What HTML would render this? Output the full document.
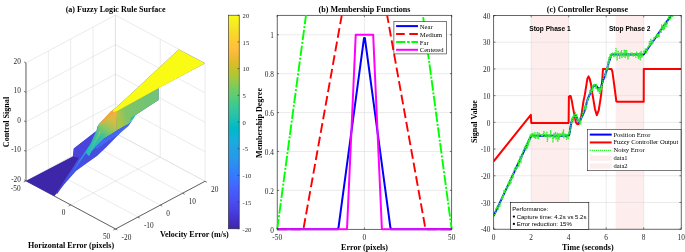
<!DOCTYPE html>
<html><head><meta charset="utf-8"><style>html,body{margin:0;padding:0;background:#fff;}svg{display:block;will-change:transform;}</style></head>
<body><svg width="685" height="252" viewBox="0 0 685 252">
<rect width="685" height="252" fill="#fff"/>
<line x1="25.98" y1="180.87" x2="25.98" y2="62.87" stroke="#dadada" stroke-width="0.55"/>
<line x1="48.34" y1="168.94" x2="48.34" y2="50.94" stroke="#dadada" stroke-width="0.55"/>
<line x1="70.7" y1="157.02" x2="70.7" y2="39.02" stroke="#dadada" stroke-width="0.55"/>
<line x1="93.06" y1="145.09" x2="93.06" y2="27.09" stroke="#dadada" stroke-width="0.55"/>
<line x1="115.42" y1="133.17" x2="115.42" y2="15.17" stroke="#dadada" stroke-width="0.55"/>
<line x1="25.98" y1="180.87" x2="115.42" y2="133.17" stroke="#dadada" stroke-width="0.55"/>
<line x1="25.98" y1="151.37" x2="115.42" y2="103.67" stroke="#dadada" stroke-width="0.55"/>
<line x1="25.98" y1="121.87" x2="115.42" y2="74.17" stroke="#dadada" stroke-width="0.55"/>
<line x1="25.98" y1="92.37" x2="115.42" y2="44.67" stroke="#dadada" stroke-width="0.55"/>
<line x1="25.98" y1="62.87" x2="115.42" y2="15.17" stroke="#dadada" stroke-width="0.55"/>
<line x1="115.42" y1="133.17" x2="115.42" y2="15.17" stroke="#dadada" stroke-width="0.55"/>
<line x1="160.22" y1="157.22" x2="160.22" y2="39.22" stroke="#dadada" stroke-width="0.55"/>
<line x1="205.02" y1="181.27" x2="205.02" y2="63.27" stroke="#dadada" stroke-width="0.55"/>
<line x1="115.42" y1="133.17" x2="205.02" y2="181.27" stroke="#dadada" stroke-width="0.55"/>
<line x1="115.42" y1="103.67" x2="205.02" y2="151.77" stroke="#dadada" stroke-width="0.55"/>
<line x1="115.42" y1="74.17" x2="205.02" y2="122.27" stroke="#dadada" stroke-width="0.55"/>
<line x1="115.42" y1="44.67" x2="205.02" y2="92.77" stroke="#dadada" stroke-width="0.55"/>
<line x1="115.42" y1="15.17" x2="205.02" y2="63.27" stroke="#dadada" stroke-width="0.55"/>
<line x1="25.98" y1="180.87" x2="115.42" y2="133.17" stroke="#dadada" stroke-width="0.55"/>
<line x1="70.78" y1="204.92" x2="160.22" y2="157.22" stroke="#dadada" stroke-width="0.55"/>
<line x1="115.58" y1="228.97" x2="205.02" y2="181.27" stroke="#dadada" stroke-width="0.55"/>
<line x1="25.98" y1="180.87" x2="115.58" y2="228.97" stroke="#dadada" stroke-width="0.55"/>
<line x1="48.34" y1="168.94" x2="137.94" y2="217.04" stroke="#dadada" stroke-width="0.55"/>
<line x1="70.7" y1="157.02" x2="160.3" y2="205.12" stroke="#dadada" stroke-width="0.55"/>
<line x1="93.06" y1="145.09" x2="182.66" y2="193.19" stroke="#dadada" stroke-width="0.55"/>
<line x1="115.42" y1="133.17" x2="205.02" y2="181.27" stroke="#dadada" stroke-width="0.55"/>
<line x1="25.98" y1="180.87" x2="25.98" y2="62.87" stroke="#262626" stroke-width="0.7"/>
<line x1="25.98" y1="180.87" x2="115.58" y2="228.97" stroke="#262626" stroke-width="0.7"/>
<line x1="115.58" y1="228.97" x2="205.02" y2="181.27" stroke="#262626" stroke-width="0.7"/>
<line x1="25.98" y1="180.87" x2="24.08" y2="179.87" stroke="#262626" stroke-width="0.6"/>
<line x1="25.98" y1="151.37" x2="24.08" y2="150.37" stroke="#262626" stroke-width="0.6"/>
<line x1="25.98" y1="121.87" x2="24.08" y2="120.87" stroke="#262626" stroke-width="0.6"/>
<line x1="25.98" y1="92.37" x2="24.08" y2="91.37" stroke="#262626" stroke-width="0.6"/>
<line x1="25.98" y1="62.87" x2="24.08" y2="61.87" stroke="#262626" stroke-width="0.6"/>
<line x1="25.98" y1="180.87" x2="23.78" y2="182.02" stroke="#262626" stroke-width="0.6"/>
<line x1="70.78" y1="204.92" x2="68.58" y2="206.07" stroke="#262626" stroke-width="0.6"/>
<line x1="115.58" y1="228.97" x2="113.38" y2="230.12" stroke="#262626" stroke-width="0.6"/>
<line x1="115.58" y1="228.97" x2="117.48" y2="229.97" stroke="#262626" stroke-width="0.6"/>
<line x1="137.94" y1="217.04" x2="139.84" y2="218.04" stroke="#262626" stroke-width="0.6"/>
<line x1="160.3" y1="205.12" x2="162.2" y2="206.12" stroke="#262626" stroke-width="0.6"/>
<line x1="182.66" y1="193.19" x2="184.56" y2="194.19" stroke="#262626" stroke-width="0.6"/>
<line x1="205.02" y1="181.27" x2="206.92" y2="182.27" stroke="#262626" stroke-width="0.6"/>
<defs><linearGradient id="gt" gradientUnits="userSpaceOnUse" x1="92" y1="145" x2="113" y2="112"><stop offset="0" stop-color="#22bdb5"/><stop offset="0.3" stop-color="#38c0a0"/><stop offset="0.55" stop-color="#8cc860"/><stop offset="0.8" stop-color="#d8bc44"/><stop offset="1" stop-color="#eeb23c"/></linearGradient><linearGradient id="gr" gradientUnits="userSpaceOnUse" x1="89" y1="151" x2="101" y2="130"><stop offset="0" stop-color="#2ab8c0"/><stop offset="0.5" stop-color="#50c490"/><stop offset="1" stop-color="#90c862"/></linearGradient><linearGradient id="gg" gradientUnits="userSpaceOnUse" x1="118" y1="112" x2="150" y2="106"><stop offset="0" stop-color="#a9c54a"/><stop offset="0.25" stop-color="#80c468"/><stop offset="1" stop-color="#70c474"/></linearGradient><linearGradient id="gs" gradientUnits="userSpaceOnUse" x1="59" y1="193" x2="90" y2="146"><stop offset="0" stop-color="#4438cc"/><stop offset="0.5" stop-color="#3f60ee"/><stop offset="0.8" stop-color="#2f94ea"/><stop offset="1" stop-color="#22bcc0"/></linearGradient></defs>
<polygon points="26,180.9 72.9,156.5 73.8,148.4 96.4,130.9 97.6,126.3 99.8,123.3 112.7,109.9 115.7,108 178.6,49.5 205.1,63.3 158.6,87.9 158.6,99.9 135.6,114.9 133.4,117.8 118.5,134.8 106,147.5 97,156 85,164.5 76,171 57,192.5 54.3,196.1" fill="#464ee0"/>
<polygon points="26,180.9 72.9,156.5 80,156 75,164 66,178 57.5,192 54.3,196.1" fill="#3e26a8"/>
<polygon points="72.9,156.5 73.8,148.4 96.4,130.9 97.6,128.3 96.3,131 91,142.5 86,153 83.5,157 80,158" fill="#4a44da"/>
<polyline points="56.5,193.5 66,180 74,170 80,160.5 85,153.2 90,146" fill="none" stroke="url(#gs)" stroke-width="1.5"/>
<polygon points="86,153 91,142.5 96.3,131 97.6,128.3 97.6,126.3 99.8,123.3 112.7,109.9 115.7,108 117.4,110.9 116.6,121 116.8,130.5 104,138.5 97,145.5 91,152 89,156" fill="url(#gt)"/>
<polyline points="88.3,155 95,141.5 100.5,131.5" fill="none" stroke="url(#gr)" stroke-width="2" stroke-linejoin="round"/>
<polyline points="100.8,124.2 106.5,117.6 112.2,111.6" fill="none" stroke="#f2a838" stroke-width="2.3" stroke-linejoin="round"/>
<polygon points="117,110.9 158.6,88.3 158.6,99.9 135.6,114.9 132.5,119.5 128.2,124 116.4,130.5 116.2,121" fill="url(#gg)"/>
<polygon points="131,117.5 135.6,114.9 133.4,118.8 130,121" fill="#22c2b0"/>
<polygon points="95,147 104,139 116.8,130.5 128.2,124 133.4,118.8 128.5,126 118.5,134.5 106,142.5 97,149" fill="#4466f0"/>
<polygon points="178.6,49.5 205.1,63.3 158.6,88.3 117.4,110.9 113.5,112 112.7,109.9 115.7,108" fill="#f9fb15"/>
<text x="20.9" y="181.87" font-family="'Liberation Serif', serif" font-size="7.3" font-weight="normal" text-anchor="end" fill="#262626">-20</text>
<text x="20.9" y="152.37" font-family="'Liberation Serif', serif" font-size="7.3" font-weight="normal" text-anchor="end" fill="#262626">-10</text>
<text x="20.9" y="122.87" font-family="'Liberation Serif', serif" font-size="7.3" font-weight="normal" text-anchor="end" fill="#262626">0</text>
<text x="20.9" y="93.37" font-family="'Liberation Serif', serif" font-size="7.3" font-weight="normal" text-anchor="end" fill="#262626">10</text>
<text x="20.9" y="63.87" font-family="'Liberation Serif', serif" font-size="7.3" font-weight="normal" text-anchor="end" fill="#262626">20</text>
<text x="20.58" y="191.27" font-family="'Liberation Serif', serif" font-size="7.3" font-weight="normal" text-anchor="end" fill="#262626">-50</text>
<text x="65.38" y="215.32" font-family="'Liberation Serif', serif" font-size="7.3" font-weight="normal" text-anchor="end" fill="#262626">0</text>
<text x="110.18" y="239.37" font-family="'Liberation Serif', serif" font-size="7.3" font-weight="normal" text-anchor="end" fill="#262626">50</text>
<text x="121.58" y="239.97" font-family="'Liberation Serif', serif" font-size="7.3" font-weight="normal" text-anchor="start" fill="#262626">-20</text>
<text x="143.94" y="228.04" font-family="'Liberation Serif', serif" font-size="7.3" font-weight="normal" text-anchor="start" fill="#262626">-10</text>
<text x="166.3" y="216.12" font-family="'Liberation Serif', serif" font-size="7.3" font-weight="normal" text-anchor="start" fill="#262626">0</text>
<text x="188.66" y="204.19" font-family="'Liberation Serif', serif" font-size="7.3" font-weight="normal" text-anchor="start" fill="#262626">10</text>
<text x="211.02" y="192.27" font-family="'Liberation Serif', serif" font-size="7.3" font-weight="normal" text-anchor="start" fill="#262626">20</text>
<text x="115.6" y="12" font-family="'Liberation Serif', serif" font-size="8.07" font-weight="bold" text-anchor="middle" fill="#000">(a) Fuzzy Logic Rule Surface</text>
<text x="9.3" y="122" font-family="'Liberation Serif', serif" font-size="8.07" font-weight="bold" text-anchor="middle" fill="#000" transform="rotate(-90 9.3 122)">Control Signal</text>
<text x="28" y="248" font-family="'Liberation Serif', serif" font-size="8.07" font-weight="bold" text-anchor="start" fill="#000">Horizontal Error (pixels)</text>
<text x="159.9" y="236.8" font-family="'Liberation Serif', serif" font-size="8.07" font-weight="bold" text-anchor="start" fill="#000">Velocity Error (m/s)</text>
<defs><linearGradient id="cb" x1="0" y1="0" x2="0" y2="1"><stop offset="0" stop-color="#f9fb15"/><stop offset="0.03" stop-color="#f6ef20"/><stop offset="0.06" stop-color="#f5e327"/><stop offset="0.09" stop-color="#f9d62d"/><stop offset="0.12" stop-color="#feca33"/><stop offset="0.16" stop-color="#febe3c"/><stop offset="0.19" stop-color="#f1ba37"/><stop offset="0.22" stop-color="#debc29"/><stop offset="0.25" stop-color="#c8c129"/><stop offset="0.28" stop-color="#afc636"/><stop offset="0.31" stop-color="#94ca4a"/><stop offset="0.34" stop-color="#77cc60"/><stop offset="0.38" stop-color="#5ccc76"/><stop offset="0.41" stop-color="#43cb8a"/><stop offset="0.44" stop-color="#34c79c"/><stop offset="0.47" stop-color="#28c2ab"/><stop offset="0.5" stop-color="#12beb9"/><stop offset="0.53" stop-color="#00b9c6"/><stop offset="0.56" stop-color="#0cb3d3"/><stop offset="0.59" stop-color="#1aacdd"/><stop offset="0.62" stop-color="#21a3e3"/><stop offset="0.66" stop-color="#269ae9"/><stop offset="0.69" stop-color="#2c90f0"/><stop offset="0.72" stop-color="#2e85f8"/><stop offset="0.75" stop-color="#347afd"/><stop offset="0.78" stop-color="#3f6eff"/><stop offset="0.81" stop-color="#4562fc"/><stop offset="0.84" stop-color="#4757f7"/><stop offset="0.88" stop-color="#484cef"/><stop offset="0.91" stop-color="#4741e5"/><stop offset="0.94" stop-color="#4536d5"/><stop offset="0.97" stop-color="#422ebf"/><stop offset="1" stop-color="#3e26a8"/></linearGradient></defs>
<rect x="228.4" y="15.2" width="10.8" height="213.6" fill="url(#cb)" stroke="#262626" stroke-width="0.6"/>
<line x1="237.6" y1="228.8" x2="239.2" y2="228.8" stroke="#262626" stroke-width="0.6"/>
<text x="242.6" y="231.5" font-family="'Liberation Serif', serif" font-size="6.6" font-weight="normal" text-anchor="start" fill="#262626">-20</text>
<line x1="237.6" y1="202.1" x2="239.2" y2="202.1" stroke="#262626" stroke-width="0.6"/>
<text x="242.6" y="204.8" font-family="'Liberation Serif', serif" font-size="6.6" font-weight="normal" text-anchor="start" fill="#262626">-15</text>
<line x1="237.6" y1="175.4" x2="239.2" y2="175.4" stroke="#262626" stroke-width="0.6"/>
<text x="242.6" y="178.1" font-family="'Liberation Serif', serif" font-size="6.6" font-weight="normal" text-anchor="start" fill="#262626">-10</text>
<line x1="237.6" y1="148.7" x2="239.2" y2="148.7" stroke="#262626" stroke-width="0.6"/>
<text x="242.6" y="151.4" font-family="'Liberation Serif', serif" font-size="6.6" font-weight="normal" text-anchor="start" fill="#262626">-5</text>
<line x1="237.6" y1="122" x2="239.2" y2="122" stroke="#262626" stroke-width="0.6"/>
<text x="242.6" y="124.7" font-family="'Liberation Serif', serif" font-size="6.6" font-weight="normal" text-anchor="start" fill="#262626">0</text>
<line x1="237.6" y1="95.3" x2="239.2" y2="95.3" stroke="#262626" stroke-width="0.6"/>
<text x="242.6" y="98" font-family="'Liberation Serif', serif" font-size="6.6" font-weight="normal" text-anchor="start" fill="#262626">5</text>
<line x1="237.6" y1="68.6" x2="239.2" y2="68.6" stroke="#262626" stroke-width="0.6"/>
<text x="242.6" y="71.3" font-family="'Liberation Serif', serif" font-size="6.6" font-weight="normal" text-anchor="start" fill="#262626">10</text>
<line x1="237.6" y1="41.9" x2="239.2" y2="41.9" stroke="#262626" stroke-width="0.6"/>
<text x="242.6" y="44.6" font-family="'Liberation Serif', serif" font-size="6.6" font-weight="normal" text-anchor="start" fill="#262626">15</text>
<line x1="237.6" y1="15.2" x2="239.2" y2="15.2" stroke="#262626" stroke-width="0.6"/>
<text x="242.6" y="17.9" font-family="'Liberation Serif', serif" font-size="6.6" font-weight="normal" text-anchor="start" fill="#262626">20</text>
<line x1="277.2" y1="190.39" x2="451.7" y2="190.39" stroke="#dadada" stroke-width="0.55"/>
<line x1="277.2" y1="151.48" x2="451.7" y2="151.48" stroke="#dadada" stroke-width="0.55"/>
<line x1="277.2" y1="112.57" x2="451.7" y2="112.57" stroke="#dadada" stroke-width="0.55"/>
<line x1="277.2" y1="73.66" x2="451.7" y2="73.66" stroke="#dadada" stroke-width="0.55"/>
<line x1="277.2" y1="34.75" x2="451.7" y2="34.75" stroke="#dadada" stroke-width="0.55"/>
<line x1="364.45" y1="15.3" x2="364.45" y2="229.3" stroke="#dadada" stroke-width="0.55"/>
<rect x="277.2" y="15.3" width="174.5" height="214" fill="none" stroke="#262626" stroke-width="0.7"/>
<defs><clipPath id="bclip"><rect x="275.7" y="15.3" width="177.5" height="215.5"/></clipPath></defs>
<g clip-path="url(#bclip)">
<polyline points="277.2,229.3 312.1,-30.09" fill="none" stroke="#00ff00" stroke-width="1.9" stroke-linejoin="round" stroke-dasharray="10.5 1.7 2 1.7"/>
<polyline points="416.8,-30.09 451.7,229.3" fill="none" stroke="#00ff00" stroke-width="1.9" stroke-linejoin="round" stroke-dasharray="10.5 1.7 2 1.7"/>
<polyline points="277.2,229.3 303.38,229.3 347,-13.88" fill="none" stroke="#ff0000" stroke-width="1.9" stroke-linejoin="round" stroke-dasharray="9.8 4"/>
<polyline points="381.9,-13.88 425.52,229.3 451.7,229.3" fill="none" stroke="#ff0000" stroke-width="1.9" stroke-linejoin="round" stroke-dasharray="9.8 4"/>
<polyline points="277.2,229.3 278.08,229.3 278.95,229.3 279.83,229.3 280.71,229.3 281.58,229.3 282.46,229.3 283.34,229.3 284.22,229.3 285.09,229.3 285.97,229.3 286.85,229.3 287.72,229.3 288.6,229.3 289.48,229.3 290.35,229.3 291.23,229.3 292.11,229.3 292.98,229.3 293.86,229.3 294.74,229.3 295.61,229.3 296.49,229.3 297.37,229.3 298.25,229.3 299.12,229.3 300,229.3 300.88,229.3 301.75,229.3 302.63,229.3 303.51,229.3 304.38,229.3 305.26,229.3 306.14,229.3 307.01,229.3 307.89,229.3 308.77,229.3 309.64,229.3 310.52,229.3 311.4,229.3 312.28,229.3 313.15,229.3 314.03,229.3 314.91,229.3 315.78,229.3 316.66,229.3 317.54,229.3 318.41,229.3 319.29,229.3 320.17,229.3 321.04,229.3 321.92,229.3 322.8,229.3 323.67,229.3 324.55,229.3 325.43,229.3 326.31,229.3 327.18,229.3 328.06,229.3 328.94,229.3 329.81,229.3 330.69,229.3 331.57,229.3 332.44,229.3 333.32,229.3 334.2,229.3 335.07,229.3 335.95,229.3 336.83,229.3 337.71,229.3 338.58,227.02 339.46,220.5 340.34,213.98 341.21,207.47 342.09,200.95 342.97,194.43 343.84,187.91 344.72,181.4 345.6,174.88 346.47,168.36 347.35,161.84 348.23,155.33 349.1,148.81 349.98,142.29 350.86,135.77 351.74,129.26 352.61,122.74 353.49,116.22 354.37,109.71 355.24,103.19 356.12,96.67 357,90.15 357.87,83.64 358.75,77.12 359.63,70.6 360.5,64.08 361.38,57.57 362.26,51.05 363.13,44.53 364.01,38.01 364.89,38.01 365.77,44.53 366.64,51.05 367.52,57.57 368.4,64.08 369.27,70.6 370.15,77.12 371.03,83.64 371.9,90.15 372.78,96.67 373.66,103.19 374.53,109.71 375.41,116.22 376.29,122.74 377.16,129.26 378.04,135.77 378.92,142.29 379.8,148.81 380.67,155.33 381.55,161.84 382.43,168.36 383.3,174.88 384.18,181.4 385.06,187.91 385.93,194.43 386.81,200.95 387.69,207.47 388.56,213.98 389.44,220.5 390.32,227.02 391.19,229.3 392.07,229.3 392.95,229.3 393.83,229.3 394.7,229.3 395.58,229.3 396.46,229.3 397.33,229.3 398.21,229.3 399.09,229.3 399.96,229.3 400.84,229.3 401.72,229.3 402.59,229.3 403.47,229.3 404.35,229.3 405.23,229.3 406.1,229.3 406.98,229.3 407.86,229.3 408.73,229.3 409.61,229.3 410.49,229.3 411.36,229.3 412.24,229.3 413.12,229.3 413.99,229.3 414.87,229.3 415.75,229.3 416.62,229.3 417.5,229.3 418.38,229.3 419.26,229.3 420.13,229.3 421.01,229.3 421.89,229.3 422.76,229.3 423.64,229.3 424.52,229.3 425.39,229.3 426.27,229.3 427.15,229.3 428.02,229.3 428.9,229.3 429.78,229.3 430.65,229.3 431.53,229.3 432.41,229.3 433.29,229.3 434.16,229.3 435.04,229.3 435.92,229.3 436.79,229.3 437.67,229.3 438.55,229.3 439.42,229.3 440.3,229.3 441.18,229.3 442.05,229.3 442.93,229.3 443.81,229.3 444.68,229.3 445.56,229.3 446.44,229.3 447.32,229.3 448.19,229.3 449.07,229.3 449.95,229.3 450.82,229.3 451.7,229.3" fill="none" stroke="#0000ff" stroke-width="2.0" stroke-linejoin="round"/>
<polyline points="277.2,229.3 347,229.3 355.73,34.75 373.18,34.75 381.9,229.3 451.7,229.3" fill="none" stroke="#ff00ff" stroke-width="2.0" stroke-linejoin="round"/>
</g>
<line x1="277.2" y1="229.3" x2="279" y2="229.3" stroke="#262626" stroke-width="0.6"/>
<line x1="451.7" y1="229.3" x2="449.9" y2="229.3" stroke="#262626" stroke-width="0.6"/>
<text x="273.9" y="232.5" font-family="'Liberation Serif', serif" font-size="7.3" font-weight="normal" text-anchor="end" fill="#262626">0</text>
<line x1="277.2" y1="190.39" x2="279" y2="190.39" stroke="#262626" stroke-width="0.6"/>
<line x1="451.7" y1="190.39" x2="449.9" y2="190.39" stroke="#262626" stroke-width="0.6"/>
<text x="273.9" y="193.59" font-family="'Liberation Serif', serif" font-size="7.3" font-weight="normal" text-anchor="end" fill="#262626">0.2</text>
<line x1="277.2" y1="151.48" x2="279" y2="151.48" stroke="#262626" stroke-width="0.6"/>
<line x1="451.7" y1="151.48" x2="449.9" y2="151.48" stroke="#262626" stroke-width="0.6"/>
<text x="273.9" y="154.68" font-family="'Liberation Serif', serif" font-size="7.3" font-weight="normal" text-anchor="end" fill="#262626">0.4</text>
<line x1="277.2" y1="112.57" x2="279" y2="112.57" stroke="#262626" stroke-width="0.6"/>
<line x1="451.7" y1="112.57" x2="449.9" y2="112.57" stroke="#262626" stroke-width="0.6"/>
<text x="273.9" y="115.77" font-family="'Liberation Serif', serif" font-size="7.3" font-weight="normal" text-anchor="end" fill="#262626">0.6</text>
<line x1="277.2" y1="73.66" x2="279" y2="73.66" stroke="#262626" stroke-width="0.6"/>
<line x1="451.7" y1="73.66" x2="449.9" y2="73.66" stroke="#262626" stroke-width="0.6"/>
<text x="273.9" y="76.86" font-family="'Liberation Serif', serif" font-size="7.3" font-weight="normal" text-anchor="end" fill="#262626">0.8</text>
<line x1="277.2" y1="34.75" x2="279" y2="34.75" stroke="#262626" stroke-width="0.6"/>
<line x1="451.7" y1="34.75" x2="449.9" y2="34.75" stroke="#262626" stroke-width="0.6"/>
<text x="273.9" y="37.95" font-family="'Liberation Serif', serif" font-size="7.3" font-weight="normal" text-anchor="end" fill="#262626">1</text>
<line x1="277.2" y1="229.3" x2="277.2" y2="227.5" stroke="#262626" stroke-width="0.6"/>
<line x1="277.2" y1="15.3" x2="277.2" y2="17.1" stroke="#262626" stroke-width="0.6"/>
<text x="277.2" y="239.6" font-family="'Liberation Serif', serif" font-size="7.3" font-weight="normal" text-anchor="middle" fill="#262626">-50</text>
<line x1="364.45" y1="229.3" x2="364.45" y2="227.5" stroke="#262626" stroke-width="0.6"/>
<line x1="364.45" y1="15.3" x2="364.45" y2="17.1" stroke="#262626" stroke-width="0.6"/>
<text x="364.45" y="239.6" font-family="'Liberation Serif', serif" font-size="7.3" font-weight="normal" text-anchor="middle" fill="#262626">0</text>
<line x1="451.7" y1="229.3" x2="451.7" y2="227.5" stroke="#262626" stroke-width="0.6"/>
<line x1="451.7" y1="15.3" x2="451.7" y2="17.1" stroke="#262626" stroke-width="0.6"/>
<text x="451.7" y="239.6" font-family="'Liberation Serif', serif" font-size="7.3" font-weight="normal" text-anchor="middle" fill="#262626">50</text>
<text x="364.45" y="12" font-family="'Liberation Serif', serif" font-size="8.07" font-weight="bold" text-anchor="middle" fill="#000">(b) Membership Functions</text>
<text x="261.6" y="123" font-family="'Liberation Serif', serif" font-size="8.07" font-weight="bold" text-anchor="middle" fill="#000" transform="rotate(-90 261.6 123)">Membership Degree</text>
<text x="364.6" y="249.6" font-family="'Liberation Serif', serif" font-size="8.07" font-weight="bold" text-anchor="middle" fill="#000">Error (pixels)</text>
<rect x="393.9" y="21.6" width="52.4" height="32.3" fill="#fff" stroke="#262626" stroke-width="0.6"/>
<line x1="396.1" y1="26.1" x2="418" y2="26.1" stroke="#0000ff" stroke-width="2.0"/>
<text x="419.8" y="28.7" font-family="'Liberation Serif', serif" font-size="6.6" font-weight="normal" text-anchor="start" fill="#000">Near</text>
<line x1="396.1" y1="34" x2="418" y2="34" stroke="#ff0000" stroke-width="2.0" stroke-dasharray="8.6 4.6"/>
<text x="419.8" y="36.6" font-family="'Liberation Serif', serif" font-size="6.6" font-weight="normal" text-anchor="start" fill="#000">Medium</text>
<line x1="396.1" y1="41.9" x2="418" y2="41.9" stroke="#00ff00" stroke-width="2.0" stroke-dasharray="9.3 1.7 2.6 1.7"/>
<text x="419.8" y="44.5" font-family="'Liberation Serif', serif" font-size="6.6" font-weight="normal" text-anchor="start" fill="#000">Far</text>
<line x1="396.1" y1="49.8" x2="418" y2="49.8" stroke="#ff00ff" stroke-width="2.0"/>
<text x="419.8" y="52.4" font-family="'Liberation Serif', serif" font-size="6.6" font-weight="normal" text-anchor="start" fill="#000">Centered</text>
<rect x="531.2" y="15.5" width="37.5" height="213.7" fill="#fdeeed"/>
<rect x="615.58" y="15.5" width="28.12" height="213.7" fill="#fdeeed"/>
<line x1="493.7" y1="202.49" x2="681.2" y2="202.49" stroke="#dadada" stroke-width="0.55"/>
<line x1="493.7" y1="175.77" x2="681.2" y2="175.77" stroke="#dadada" stroke-width="0.55"/>
<line x1="493.7" y1="149.06" x2="681.2" y2="149.06" stroke="#dadada" stroke-width="0.55"/>
<line x1="493.7" y1="122.35" x2="681.2" y2="122.35" stroke="#dadada" stroke-width="0.55"/>
<line x1="493.7" y1="95.64" x2="681.2" y2="95.64" stroke="#dadada" stroke-width="0.55"/>
<line x1="493.7" y1="68.93" x2="681.2" y2="68.93" stroke="#dadada" stroke-width="0.55"/>
<line x1="493.7" y1="42.21" x2="681.2" y2="42.21" stroke="#dadada" stroke-width="0.55"/>
<line x1="531.2" y1="15.5" x2="531.2" y2="229.2" stroke="#dadada" stroke-width="0.55"/>
<line x1="568.7" y1="15.5" x2="568.7" y2="229.2" stroke="#dadada" stroke-width="0.55"/>
<line x1="606.2" y1="15.5" x2="606.2" y2="229.2" stroke="#dadada" stroke-width="0.55"/>
<line x1="643.7" y1="15.5" x2="643.7" y2="229.2" stroke="#dadada" stroke-width="0.55"/>
<defs><clipPath id="cclip"><rect x="493.7" y="15.5" width="187.5" height="213.7"/></clipPath></defs>
<g clip-path="url(#cclip)">
<polyline points="493.7,161.35 530.83,114.87 531.29,123.02 568.61,123.02 568.89,96.71 569.83,95.9 570.58,95.9 571.7,100.18 572.83,106.86 574.7,116.21 575.83,122.35 577.33,124.22 578.45,123.95 579.58,122.88 580.7,119.14 581.83,112.73 583.51,100.98 584.83,94.84 586.51,84.15 587.45,78.54 588.58,76.4 589.7,78.81 591.01,84.15 592.33,93.5 593.45,99.91 594.95,108.99 596.83,115.14 598.7,110.33 600.2,100.98 601.14,94.84 602.08,82.28 603.01,68.93 611.45,68.93 612.39,71.6 614.08,83.88 616.33,101.25 617.08,101.78 643.7,101.78 643.79,68.93 681.2,68.93" fill="none" stroke="#ff0000" stroke-width="2.0" stroke-linejoin="round"/>
<polyline points="493.7,215.84 531.2,135.71 568.7,135.71 569.26,134.37 569.83,131.7 571.14,123.15 572.83,118.34 574.33,115.94 575.45,115.4 576.76,117.54 578.26,121.82 579.95,120.21 581.83,117.01 584.26,111.66 587.45,99.91 589.51,94.84 592.89,86.56 595.89,85.22 598.33,88.69 600.76,87.62 603.01,80.41 606.01,72.66 608.64,63.05 611.45,54.5 643.7,54.5 681.2,1.08" fill="none" stroke="#0000ff" stroke-width="2.0" stroke-linejoin="round"/>
<polyline points="493.7,216.42 494.07,213.88 494.45,214.75 494.82,214.16 495.2,214.75 495.57,212.32 495.95,208.51 496.32,209.27 496.7,207.08 497.07,208.07 497.45,206.93 497.82,206.61 498.2,210.01 498.57,203.48 498.95,203.47 499.32,202.69 499.7,206.86 500.07,206.18 500.45,203.44 500.82,201.68 501.2,199.12 501.57,199.12 501.95,197.03 502.32,198.87 502.7,195.91 503.07,194.91 503.45,196.51 503.82,190.31 504.2,192.14 504.57,189.89 504.95,193.21 505.32,192.68 505.7,190.98 506.07,189.64 506.45,187.16 506.82,187.23 507.2,188.01 507.57,188.37 507.95,186.57 508.32,181.82 508.7,185.62 509.07,182.43 509.45,181.22 509.82,184.77 510.2,180.47 510.57,176.82 510.95,183.55 511.32,178.91 511.7,177.62 512.08,178.43 512.45,174.65 512.83,175.12 513.2,177.5 513.58,171.49 513.95,171.05 514.33,169.62 514.7,167.7 515.08,169.34 515.45,169.09 515.83,171.51 516.2,166.36 516.58,168.35 516.95,167.19 517.33,168.23 517.7,166.75 518.08,164.96 518.45,160.03 518.83,166.76 519.2,164.66 519.58,160.01 519.95,156.47 520.33,157.63 520.7,162.46 521.08,163.06 521.45,155.73 521.83,157.41 522.2,157.48 522.58,151.92 522.95,150.83 523.33,152.18 523.7,151.18 524.08,149.95 524.45,146.51 524.83,147.92 525.2,147.35 525.58,146.48 525.95,150.49 526.33,143.21 526.7,143.15 527.08,143.32 527.45,148.2 527.83,144.36 528.2,140.2 528.58,145.43 528.95,140.93 529.33,137.4 529.7,141.89 530.08,134.45 530.45,136.06 530.83,136.85 531.2,134.97 531.58,134.23 531.95,135.43 532.33,133.1 532.7,137.21 533.08,136.65 533.45,133.34 533.83,135.65 534.2,137.71 534.58,133.56 534.95,132.38 535.33,136.72 535.7,138.84 536.08,136.01 536.45,136.04 536.83,136.38 537.2,132.52 537.58,138.04 537.95,132.84 538.33,138.59 538.7,137.49 539.08,134.27 539.45,133.14 539.83,133.76 540.2,134.92 540.58,135.38 540.95,135.36 541.33,134.4 541.7,136.11 542.08,135.08 542.45,134.41 542.83,135.7 543.2,133.97 543.58,134.42 543.95,131.14 544.33,134.97 544.7,136.68 545.08,136.55 545.45,135.74 545.83,133.61 546.2,136.47 546.58,134.83 546.95,131.53 547.33,141.53 547.7,138.26 548.08,135.15 548.45,134.8 548.83,135.16 549.2,136.69 549.58,134.22 549.95,135.07 550.33,136.89 550.7,130.19 551.08,134.9 551.45,136.96 551.83,135.93 552.2,136.22 552.58,135.85 552.95,141.9 553.33,136.81 553.7,133.42 554.08,138.36 554.45,135.86 554.83,133.54 555.2,133.76 555.58,132.32 555.95,139.57 556.33,136.51 556.7,136.48 557.08,134.29 557.45,133.23 557.83,141.8 558.2,133.23 558.58,138.99 558.95,134.16 559.33,139.09 559.7,135.31 560.08,132.99 560.45,136.05 560.83,135.27 561.2,133.9 561.58,135.39 561.95,135.91 562.33,132.22 562.7,133.33 563.08,136.37 563.45,129.47 563.83,138.31 564.2,133.63 564.58,136.31 564.95,135.41 565.33,134.11 565.7,135.2 566.08,134.26 566.45,139.17 566.83,139.13 567.2,134.31 567.58,137.89 567.95,138.04 568.33,139.04 568.7,132.83 569.08,133.12 569.45,130.14 569.83,133.83 570.2,129.25 570.58,129.4 570.95,122.63 571.33,119.01 571.7,123.57 572.08,116.94 572.45,117.17 572.83,118.75 573.2,122.22 573.58,113.95 573.95,116.76 574.33,117.31 574.7,114.85 575.08,114.65 575.45,112 575.83,118.33 576.2,114.05 576.58,113.86 576.95,114.78 577.33,119.55 577.7,121.9 578.08,118.97 578.45,121.38 578.83,121 579.2,117.69 579.58,121.17 579.95,125.43 580.33,120.45 580.7,123.14 581.08,116.43 581.45,116.93 581.83,118.4 582.2,116.21 582.58,113.47 582.95,114.36 583.33,110.71 583.7,113.04 584.08,109.71 584.45,107.59 584.83,105.94 585.2,109.73 585.58,104.83 585.95,109.7 586.33,106.52 586.7,107.13 587.08,98.87 587.45,102.71 587.83,99.02 588.2,98.5 588.58,97.21 588.95,97.56 589.33,94.77 589.7,90.31 590.08,93.36 590.45,91.33 590.83,89.34 591.2,91.15 591.58,92.64 591.95,90.12 592.33,85.5 592.7,90.75 593.08,87.83 593.45,84.02 593.83,84.34 594.2,85.95 594.58,83.98 594.95,85.26 595.33,88.15 595.7,88.85 596.08,86.94 596.45,83.93 596.83,87.84 597.2,89.14 597.58,89.37 597.95,91.64 598.33,88.96 598.7,91.21 599.08,87.54 599.45,93.56 599.83,87.29 600.2,89.33 600.58,92.12 600.95,85.38 601.33,86.45 601.7,89.68 602.08,85.4 602.45,81.55 602.83,82.05 603.2,78.16 603.58,77.26 603.95,76.48 604.33,76.28 604.7,73.03 605.08,73.59 605.45,73.09 605.83,77.88 606.2,69.94 606.58,67.63 606.95,69.9 607.33,68.92 607.7,62.08 608.08,69.1 608.45,62.67 608.83,56.98 609.2,63.44 609.58,58.63 609.95,54.78 610.33,58.19 610.7,55.51 611.08,53.59 611.45,56.56 611.83,54.7 612.2,53.84 612.58,52.63 612.95,54.58 613.33,54.94 613.7,56.81 614.08,55.32 614.45,52.48 614.83,54.27 615.2,56.44 615.58,56.41 615.95,48.45 616.33,51.91 616.7,53.05 617.08,60.39 617.45,53.09 617.83,53.41 618.2,50.68 618.58,53.53 618.95,54.65 619.33,53.31 619.7,58.91 620.08,52.15 620.45,53.76 620.83,56.09 621.2,51.49 621.58,50.39 621.95,57.68 622.33,56.01 622.7,53.84 623.08,54.08 623.45,55.41 623.83,56.71 624.2,49.69 624.58,52.14 624.95,57.21 625.33,57.55 625.7,50.63 626.08,52.25 626.45,50.37 626.83,52.66 627.2,56.48 627.58,53.91 627.95,59.4 628.33,56.2 628.7,54.63 629.08,53.31 629.45,56.15 629.83,54.78 630.2,53.46 630.58,53.64 630.95,53.05 631.33,54.03 631.7,55.24 632.08,52.71 632.45,54.39 632.83,56.38 633.2,55.92 633.58,54.5 633.95,54.75 634.33,54.14 634.7,54.5 635.08,54.1 635.45,54.81 635.83,57.36 636.2,53.54 636.58,52.11 636.95,53.51 637.33,54.93 637.7,53.49 638.08,56.69 638.45,58.81 638.83,54.36 639.2,56.61 639.58,52.82 639.95,56.96 640.33,60.47 640.7,56.86 641.08,50.92 641.45,55.37 641.83,57.61 642.2,56.23 642.58,53.32 642.95,53.37 643.33,54.1 643.7,51.13 644.08,52.36 644.45,53.48 644.83,51.54 645.2,48.61 645.58,49.62 645.95,48.97 646.33,53.22 646.7,50.56 647.08,48.03 647.45,49.83 647.83,46.2 648.2,46.74 648.58,45.49 648.95,47.5 649.33,40.7 649.7,43.14 650.08,45.91 650.45,44.68 650.83,38.46 651.2,44.59 651.58,41.3 651.95,40.52 652.33,42.2 652.7,44.33 653.08,40.72 653.45,39.79 653.83,37.51 654.2,37.76 654.58,38.95 654.95,36.53 655.33,36.71 655.7,36.94 656.08,36.74 656.45,36.89 656.83,34.24 657.2,37.66 657.58,36.16 657.95,34.19 658.33,36.99 658.7,34.12 659.08,37.16 659.45,33.61 659.83,30.24 660.2,29.71 660.58,30.58 660.95,30.45 661.33,32.61 661.7,24.71 662.08,27.15 662.45,25.31 662.83,29.26 663.2,27.14 663.58,30.32 663.95,23.88 664.33,22.99 664.7,28.89 665.08,24.17 665.45,22.08 665.83,26.98 666.2,26.59 666.58,24.33 666.95,22.81 667.33,24.03 667.7,20.24 668.08,19.21 668.45,17.8 668.83,17.11 669.2,14.76 669.58,14.99 669.95,20.08 670.33,17.72 670.7,18.44 671.08,17.94 671.45,15.15 671.83,14.42 672.2,12.78 672.58,16.97 672.95,15.64 673.33,12.35 673.7,12.21 674.08,11.93 674.45,10.84 674.83,11.88 675.2,8.03 675.58,8.28 675.95,8.75 676.33,9.55 676.7,7.88 677.08,13.13 677.45,8.65 677.83,5.8 678.2,8.76 678.58,4.36 678.95,3.95 679.33,6.87 679.7,3.78 680.08,3.39 680.45,1.1 680.83,0.22 681.2,1.16" fill="none" stroke="#30ee30" stroke-width="1.45" stroke-linecap="round" stroke-linejoin="round" stroke-dasharray="0.01 1.8"/>
</g>
<rect x="493.7" y="15.5" width="187.5" height="213.7" fill="none" stroke="#262626" stroke-width="0.7"/>
<line x1="493.7" y1="229.2" x2="495.5" y2="229.2" stroke="#262626" stroke-width="0.6"/>
<line x1="681.2" y1="229.2" x2="679.4" y2="229.2" stroke="#262626" stroke-width="0.6"/>
<text x="490.4" y="232.4" font-family="'Liberation Serif', serif" font-size="7.3" font-weight="normal" text-anchor="end" fill="#262626">-40</text>
<line x1="493.7" y1="202.49" x2="495.5" y2="202.49" stroke="#262626" stroke-width="0.6"/>
<line x1="681.2" y1="202.49" x2="679.4" y2="202.49" stroke="#262626" stroke-width="0.6"/>
<text x="490.4" y="205.69" font-family="'Liberation Serif', serif" font-size="7.3" font-weight="normal" text-anchor="end" fill="#262626">-30</text>
<line x1="493.7" y1="175.77" x2="495.5" y2="175.77" stroke="#262626" stroke-width="0.6"/>
<line x1="681.2" y1="175.77" x2="679.4" y2="175.77" stroke="#262626" stroke-width="0.6"/>
<text x="490.4" y="178.97" font-family="'Liberation Serif', serif" font-size="7.3" font-weight="normal" text-anchor="end" fill="#262626">-20</text>
<line x1="493.7" y1="149.06" x2="495.5" y2="149.06" stroke="#262626" stroke-width="0.6"/>
<line x1="681.2" y1="149.06" x2="679.4" y2="149.06" stroke="#262626" stroke-width="0.6"/>
<text x="490.4" y="152.26" font-family="'Liberation Serif', serif" font-size="7.3" font-weight="normal" text-anchor="end" fill="#262626">-10</text>
<line x1="493.7" y1="122.35" x2="495.5" y2="122.35" stroke="#262626" stroke-width="0.6"/>
<line x1="681.2" y1="122.35" x2="679.4" y2="122.35" stroke="#262626" stroke-width="0.6"/>
<text x="490.4" y="125.55" font-family="'Liberation Serif', serif" font-size="7.3" font-weight="normal" text-anchor="end" fill="#262626">0</text>
<line x1="493.7" y1="95.64" x2="495.5" y2="95.64" stroke="#262626" stroke-width="0.6"/>
<line x1="681.2" y1="95.64" x2="679.4" y2="95.64" stroke="#262626" stroke-width="0.6"/>
<text x="490.4" y="98.84" font-family="'Liberation Serif', serif" font-size="7.3" font-weight="normal" text-anchor="end" fill="#262626">10</text>
<line x1="493.7" y1="68.93" x2="495.5" y2="68.93" stroke="#262626" stroke-width="0.6"/>
<line x1="681.2" y1="68.93" x2="679.4" y2="68.93" stroke="#262626" stroke-width="0.6"/>
<text x="490.4" y="72.13" font-family="'Liberation Serif', serif" font-size="7.3" font-weight="normal" text-anchor="end" fill="#262626">20</text>
<line x1="493.7" y1="42.21" x2="495.5" y2="42.21" stroke="#262626" stroke-width="0.6"/>
<line x1="681.2" y1="42.21" x2="679.4" y2="42.21" stroke="#262626" stroke-width="0.6"/>
<text x="490.4" y="45.41" font-family="'Liberation Serif', serif" font-size="7.3" font-weight="normal" text-anchor="end" fill="#262626">30</text>
<line x1="493.7" y1="15.5" x2="495.5" y2="15.5" stroke="#262626" stroke-width="0.6"/>
<line x1="681.2" y1="15.5" x2="679.4" y2="15.5" stroke="#262626" stroke-width="0.6"/>
<text x="490.4" y="18.7" font-family="'Liberation Serif', serif" font-size="7.3" font-weight="normal" text-anchor="end" fill="#262626">40</text>
<line x1="493.7" y1="229.2" x2="493.7" y2="227.4" stroke="#262626" stroke-width="0.6"/>
<line x1="493.7" y1="15.5" x2="493.7" y2="17.3" stroke="#262626" stroke-width="0.6"/>
<text x="493.7" y="239.6" font-family="'Liberation Serif', serif" font-size="7.3" font-weight="normal" text-anchor="middle" fill="#262626">0</text>
<line x1="531.2" y1="229.2" x2="531.2" y2="227.4" stroke="#262626" stroke-width="0.6"/>
<line x1="531.2" y1="15.5" x2="531.2" y2="17.3" stroke="#262626" stroke-width="0.6"/>
<text x="531.2" y="239.6" font-family="'Liberation Serif', serif" font-size="7.3" font-weight="normal" text-anchor="middle" fill="#262626">2</text>
<line x1="568.7" y1="229.2" x2="568.7" y2="227.4" stroke="#262626" stroke-width="0.6"/>
<line x1="568.7" y1="15.5" x2="568.7" y2="17.3" stroke="#262626" stroke-width="0.6"/>
<text x="568.7" y="239.6" font-family="'Liberation Serif', serif" font-size="7.3" font-weight="normal" text-anchor="middle" fill="#262626">4</text>
<line x1="606.2" y1="229.2" x2="606.2" y2="227.4" stroke="#262626" stroke-width="0.6"/>
<line x1="606.2" y1="15.5" x2="606.2" y2="17.3" stroke="#262626" stroke-width="0.6"/>
<text x="606.2" y="239.6" font-family="'Liberation Serif', serif" font-size="7.3" font-weight="normal" text-anchor="middle" fill="#262626">6</text>
<line x1="643.7" y1="229.2" x2="643.7" y2="227.4" stroke="#262626" stroke-width="0.6"/>
<line x1="643.7" y1="15.5" x2="643.7" y2="17.3" stroke="#262626" stroke-width="0.6"/>
<text x="643.7" y="239.6" font-family="'Liberation Serif', serif" font-size="7.3" font-weight="normal" text-anchor="middle" fill="#262626">8</text>
<line x1="681.2" y1="229.2" x2="681.2" y2="227.4" stroke="#262626" stroke-width="0.6"/>
<line x1="681.2" y1="15.5" x2="681.2" y2="17.3" stroke="#262626" stroke-width="0.6"/>
<text x="681.2" y="239.6" font-family="'Liberation Serif', serif" font-size="7.3" font-weight="normal" text-anchor="middle" fill="#262626">10</text>
<text x="587.45" y="12" font-family="'Liberation Serif', serif" font-size="8.07" font-weight="bold" text-anchor="middle" fill="#000">(c) Controller Response</text>
<text x="477.3" y="121.5" font-family="'Liberation Serif', serif" font-size="8.07" font-weight="bold" text-anchor="middle" fill="#000" transform="rotate(-90 477.3 121.5)">Signal Value</text>
<text x="587.8" y="249.6" font-family="'Liberation Serif', serif" font-size="8.07" font-weight="bold" text-anchor="middle" fill="#000">Time (seconds)</text>
<text x="549.95" y="31.2" font-family="'Liberation Sans', sans-serif" font-size="6.6" font-weight="bold" text-anchor="middle" fill="#000">Stop Phase 1</text>
<text x="629.64" y="31.2" font-family="'Liberation Sans', sans-serif" font-size="6.6" font-weight="bold" text-anchor="middle" fill="#000">Stop Phase 2</text>
<rect x="587.6" y="129.4" width="93.4" height="41.3" fill="#fff" stroke="#262626" stroke-width="0.6"/>
<line x1="589.8" y1="134.6" x2="611.7" y2="134.6" stroke="#0000ff" stroke-width="2.0"/>
<text x="613.4" y="136.5" font-family="'Liberation Serif', serif" font-size="6.6" font-weight="normal" text-anchor="start" fill="#000">Position Error</text>
<line x1="589.8" y1="142.45" x2="611.7" y2="142.45" stroke="#ff0000" stroke-width="2.0"/>
<text x="613.4" y="144.35" font-family="'Liberation Serif', serif" font-size="6.6" font-weight="normal" text-anchor="start" fill="#000">Fuzzy Controller Output</text>
<line x1="589.8" y1="150.3" x2="611.7" y2="150.3" stroke="#00ee00" stroke-width="1.2" stroke-dasharray="1 1"/>
<text x="613.4" y="152.2" font-family="'Liberation Serif', serif" font-size="6.6" font-weight="normal" text-anchor="start" fill="#000">Noisy Error</text>
<rect x="589.8" y="155.6" width="21.9" height="5.2" fill="#fdeeed"/>
<text x="613.4" y="159.8" font-family="'Liberation Serif', serif" font-size="6.6" font-weight="normal" text-anchor="start" fill="#000">data1</text>
<rect x="589.8" y="163.5" width="21.9" height="5.2" fill="#fdeeed"/>
<text x="613.4" y="167.7" font-family="'Liberation Serif', serif" font-size="6.6" font-weight="normal" text-anchor="start" fill="#000">data2</text>
<rect x="510.5" y="202.3" width="78.3" height="27" fill="#fff" stroke="#000" stroke-width="0.6"/>
<text x="512.2" y="210.7" font-family="'Liberation Sans', sans-serif" font-size="6.0" font-weight="normal" text-anchor="start" fill="#000">Performance:</text>
<circle cx="513.9" cy="216.6" r="1.15" fill="#000"/><circle cx="513.9" cy="223.9" r="1.15" fill="#000"/>
<text x="516.7" y="218.6" font-family="'Liberation Sans', sans-serif" font-size="6.0" font-weight="normal" text-anchor="start" fill="#000">Capture time: 4.2s vs 5.2s</text>
<text x="516.7" y="225.9" font-family="'Liberation Sans', sans-serif" font-size="6.0" font-weight="normal" text-anchor="start" fill="#000">Error reduction: 15%</text>
</svg></body></html>
